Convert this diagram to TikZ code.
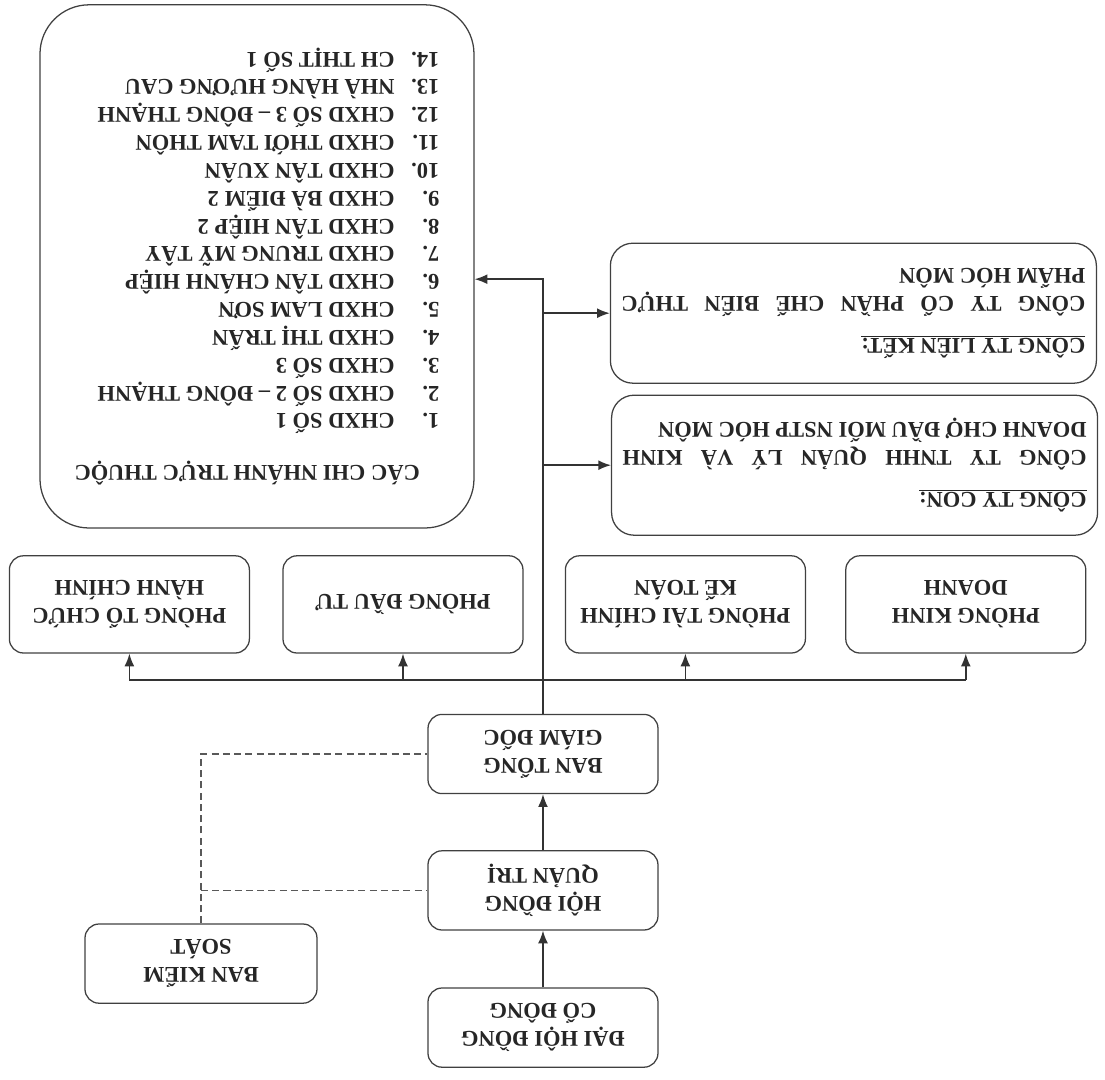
\documentclass[tikz,border=0pt]{standalone}
\usepackage{fontspec}
\setmainfont{Liberation Serif}
\usetikzlibrary{arrows.meta}
\newcommand{\cn}[2]{\makebox[32pt][l]{#1.}#2}

\begin{document}
\begin{tikzpicture}[rotate=180, transform shape, >={Latex[length=9pt,width=7pt]}]
\tikzset{
  khung/.style={draw=black!75, line width=0.9pt, rounded corners=10pt, align=center,
    text=black!85, minimum width=5.75cm, minimum height=1.98cm,
    font=\bfseries\fontsize{16}{19.8}\selectfont},
  phong/.style={khung, minimum width=6cm, minimum height=2.43cm},
  congty/.style={khung, rounded corners=16pt, minimum width=12.15cm, minimum height=3.5cm,
    text width=11.6cm, align=justify},
  noi/.style={draw=black!80, line width=1pt},
  gach/.style={draw=black!65, line width=1pt, dash pattern=on 5pt off 3pt}
}
\useasboundingbox (0,0) rectangle (27.625,27);
% ban lanh dao
\node[khung] (dhdcd) at (14.05,25.69) {ĐẠI HỘI ĐỒNG\\CỔ ĐÔNG};
\node[khung] (hdqt) at (14.05,22.26) {HỘI ĐỒNG\\QUẢN TRỊ};
\node[khung] (btgd) at (14.05,18.85) {BAN TỔNG\\GIÁM ĐỐC};
\node[khung, minimum width=5.8cm] (bks) at (22.6,24.09) {BAN KIỂM\\SOÁT};
% cac phong
\node[phong] (pkd) at (3.48,15.11) {PHÒNG KINH\\DOANH};
\node[phong] (ptc) at (10.49,15.11) {PHÒNG TÀI CHÍNH\\KẾ TOÁN};
\node[phong] (pdt) at (17.55,15.11) {PHÒNG ĐẦU TƯ};
\node[phong] (ptchc) at (24.39,15.11) {PHÒNG TỔ CHỨC\\HÀNH CHÍNH};
% cong ty con, lien ket
\node[congty] (con) at (6.26,11.63) {\underline{CÔNG TY CON:}\\[10pt]
  CÔNG TY TNHH QUẢN LÝ VÀ KINH\linebreak DOANH CHỢ ĐẦU MỐI NSTP HÓC MÔN};
\node[congty] (lienket) at (6.29,7.83) {\underline{CÔNG TY LIÊN KẾT:}\\[10pt]
  CÔNG TY CỔ PHẦN CHẾ BIẾN THỰC\linebreak PHẨM HÓC MÔN};
% chi nhanh
\node[khung, rounded corners=35pt, minimum width=10.85cm, minimum height=13.08cm, align=left]
  (chinhanh) at (21.2,6.66) {\hspace*{14pt}CÁC CHI NHÁNH TRỰC THUỘC\\[17pt]
  \cn{1}{CHXD SỐ 1}\\
  \cn{2}{CHXD SỐ 2 – ĐÔNG THẠNH}\\
  \cn{3}{CHXD SỐ 3}\\
  \cn{4}{CHXD THỊ TRẤN}\\
  \cn{5}{CHXD LAM SƠN}\\
  \cn{6}{CHXD TÂN CHÁNH HIỆP}\\
  \cn{7}{CHXD TRUNG MỸ TÂY}\\
  \cn{8}{CHXD TÂN HIỆP 2}\\
  \cn{9}{CHXD BÀ ĐIỂM 2}\\
  \cn{10}{CHXD TÂN XUÂN}\\
  \cn{11}{CHXD THỚI TAM THÔN}\\
  \cn{12}{CHXD SỐ 3 – ĐÔNG THẠNH}\\
  \cn{13}{NHÀ HÀNG HƯƠNG CAU}\\
  \cn{14}{CH THỊT SỐ 1}};
% duong noi
\draw[noi,->] (dhdcd) -- (hdqt);
\draw[noi,->] (hdqt) -- (btgd);
\coordinate (bus) at (0,17);
\coordinate (cuoi) at (0,6.98);
\draw[noi,->] (btgd.south) -- (btgd.south |- cuoi) -- (chinhanh.west |- cuoi);
\draw[noi,->] (btgd.south |- con.east) -- (con.east);
\draw[noi,->] (btgd.south |- lienket.east) -- (lienket.east);
\draw[noi] (pkd.north |- bus) -- (ptchc.north |- bus);
\foreach \p in {pkd,ptc,pdt,ptchc}
  \draw[noi,->] (\p.north |- bus) -- (\p.north);
\draw[gach] (bks.south) -- (bks.south |- btgd.east) -- (btgd.east);
\draw[gach] (bks.south |- hdqt.east) -- (hdqt.east);
\end{tikzpicture}
\end{document}
